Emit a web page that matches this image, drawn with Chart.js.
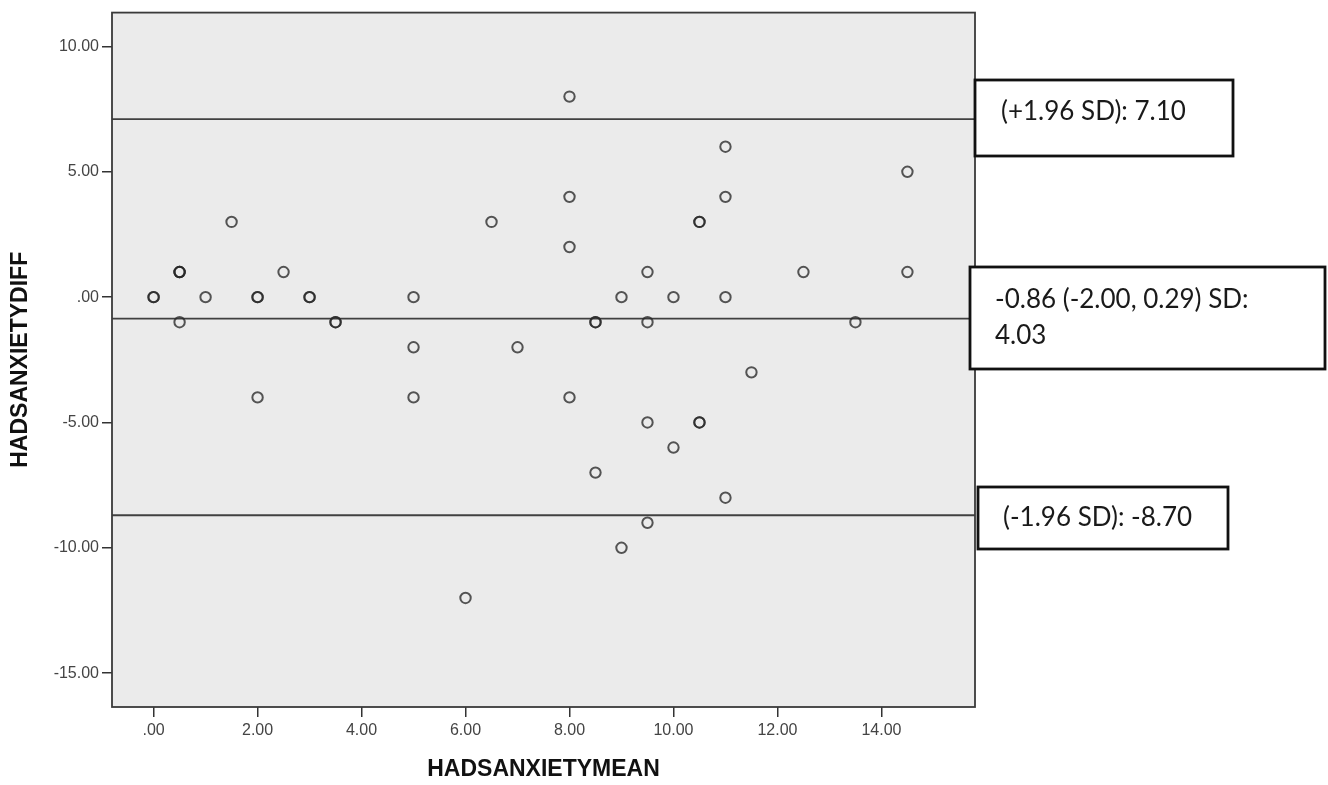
<!DOCTYPE html>
<html>
<head>
<meta charset="utf-8">
<script src="https://cdn.jsdelivr.net/npm/chart.js@4/dist/chart.umd.min.js"></script>
<style>
  html, body { margin: 0; padding: 0; background: #fff; }
  #wrap { width: 1328px; height: 785px; position: relative; }
</style>
</head>
<body>
<div id="wrap"><canvas id="blandAltman"></canvas></div>
<script>
// HADS anxiety: mean of the two scores vs their difference
const meanVals = [0, 0, 0.5, 0.5, 0.5, 0.5, 1, 1.5, 2, 2, 2, 2.5, 3, 3, 3.5, 3.5,
  5, 5, 5, 6, 6.5, 7, 8, 8, 8, 8, 8.5, 8.5, 8.5, 9, 9, 9.5, 9.5, 9.5, 9.5,
  10, 10, 10.5, 10.5, 10.5, 10.5, 11, 11, 11, 11, 11.5, 12.5, 13.5, 14.5, 14.5];
const diffVals = [0, 0, 1, 1, -1, 1, 0, 3, 0, 0, -4, 1, 0, 0, -1, -1,
  0, -2, -4, -12, 3, -2, 8, 4, 2, -4, -1, -1, -7, 0, -10, 1, -1, -5, -9,
  0, -6, 3, 3, -5, -5, 6, 4, 0, -8, -3, 1, -1, 5, 1];

// reference lines: bias and limits of agreement
const limitVals = [7.10, -0.86, -8.70];
const limitText = [
  ['(+1.96 SD): 7.10'],
  ['-0.86 (-2.00, 0.29) SD:', '4.03'],
  ['(-1.96 SD): -8.70']
];

const xTicks = [0, 2, 4, 6, 8, 10, 12, 14];
const yTicks = [-15, -10, -5, 0, 5, 10];
const xRange = [-0.8, 15.8];
const yRange = [-16.35, 11.35];

function fmt(v) {
  let s = Math.abs(v).toFixed(2);
  if (s.startsWith('0')) s = s.slice(1);
  return (v < 0 ? '-' : '') + s;
}

const points = meanVals.map((m, i) => ({ x: m, y: diffVals[i] }));

const lineSets = limitVals.map(v => ({
  type: 'line',
  data: [{ x: xRange[0], y: v }, { x: xRange[1], y: v }],
  borderColor: '#404040',
  borderWidth: 1.8,
  pointRadius: 0,
  order: 2
}));

// boxes on the right, in canvas pixels
const boxes = [
  { x: 975, y: 80, w: 258, h: 76, tx: 1001, ty: [112] },
  { x: 970, y: 267, w: 355, h: 102, tx: 995, ty: [300, 336] },
  { x: 978, y: 487, w: 250, h: 62, tx: 1003, ty: [518] }
];

const plotBack = {
  id: 'plotBack',
  beforeDraw(chart) {
    const { ctx, chartArea: a } = chart;
    ctx.save();
    ctx.fillStyle = '#ebebeb';
    ctx.fillRect(a.left, a.top, a.right - a.left, a.bottom - a.top);
    ctx.restore();
  },
  afterDraw(chart) {
    const { ctx, chartArea: a } = chart;
    ctx.save();
    ctx.strokeStyle = '#3a3a3a';
    ctx.lineWidth = 1.8;
    ctx.strokeRect(a.left, a.top, a.right - a.left, a.bottom - a.top);

    ctx.font = '26px Lato, "Open Sans", sans-serif';
    ctx.textBaseline = 'middle';
    ctx.textAlign = 'left';
    boxes.forEach((b, i) => {
      ctx.fillStyle = '#fff';
      ctx.fillRect(b.x, b.y, b.w, b.h);
      ctx.strokeStyle = '#111';
      ctx.lineWidth = 2.8;
      ctx.strokeRect(b.x, b.y, b.w, b.h);
      ctx.fillStyle = '#1a1a1a';
      limitText[i].forEach((t, j) => ctx.fillText(t, b.tx, b.ty[j]));
    });
    ctx.restore();
  }
};

new Chart(document.getElementById('blandAltman'), {
  type: 'scatter',
  data: {
    datasets: [{
      data: points,
      pointStyle: 'circle',
      pointRadius: 5.2,
      pointBorderWidth: 2,
      backgroundColor: 'rgba(0,0,0,0)',
      borderColor: 'rgba(40,40,40,0.78)',
      order: 1
    }, ...lineSets]
  },
  options: {
    responsive: true,
    maintainAspectRatio: false,
    animation: false,
    layout: { padding: { left: 0, top: 9, right: 353, bottom: 0 } },
    plugins: { legend: { display: false }, tooltip: { enabled: false } },
    scales: {
      x: {
        type: 'linear',
        min: xRange[0],
        max: xRange[1],
        afterBuildTicks: s => { s.ticks = xTicks.map(v => ({ value: v })); },
        afterFit: s => { s.height = 78; },
        grid: { drawOnChartArea: false, drawTicks: true, tickLength: 10, color: '#333', lineWidth: 1.5 },
        border: { display: false },
        ticks: {
          padding: 4,
          color: '#444',
          font: { family: '"Liberation Sans", Arial', size: 16 },
          callback: v => fmt(v)
        },
        title: {
          display: true,
          text: 'HADSANXIETYMEAN',
          color: '#111',
          font: { family: '"Liberation Sans", Arial', size: 23, weight: 'bold' },
          padding: { top: 0, bottom: 2 }
        }
      },
      y: {
        type: 'linear',
        min: yRange[0],
        max: yRange[1],
        afterBuildTicks: s => { s.ticks = yTicks.map(v => ({ value: v })); },
        afterFit: s => { s.width = 112; },
        grid: { drawOnChartArea: false, drawTicks: true, tickLength: 10, color: '#333', lineWidth: 1.5 },
        border: { display: false },
        ticks: {
          padding: 3,
          color: '#444',
          font: { family: '"Liberation Sans", Arial', size: 16 },
          callback: v => fmt(v)
        },
        title: {
          display: true,
          text: 'HADSANXIETYDIFF',
          color: '#111',
          font: { family: '"Liberation Sans", Arial', size: 23, weight: 'bold' },
          padding: { top: 7, bottom: 0 }
        }
      }
    }
  },
  plugins: [plotBack]
});
</script>
</body>
</html>
